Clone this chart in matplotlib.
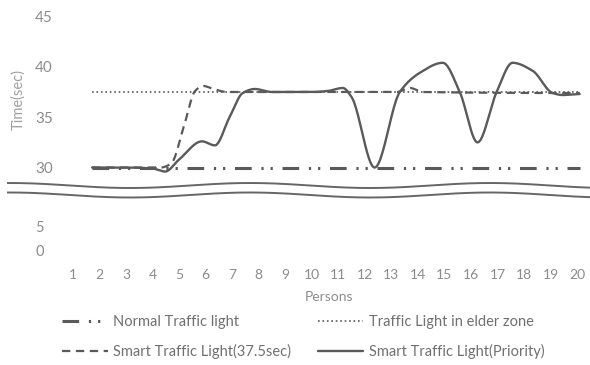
import numpy as np
import matplotlib.pyplot as plt
from matplotlib.lines import Line2D

plt.rcParams['font.family'] = ['Lato', 'DejaVu Sans']
plt.rcParams['lines.scale_dashes'] = False

# data
persons = list(range(1, 21))
span_x = [1.72, 20.1]
normal = [30, 30]
elder = [37.5, 37.5]

smart_x = [1.72, 4.3, 4.7, 5.2, 5.6, 5.9, 6.3, 6.8, 13.2, 13.7, 14.2, 20.1]
smart_y = [30, 30, 30.4, 34.3, 37.6, 38.1, 37.8, 37.5, 37.5, 37.9, 37.5, 37.4]

prio_x = [1.72, 3.0, 4.0, 4.47, 5.0, 5.86, 6.35, 6.9, 7.4, 7.85, 8.5, 10.0, 10.6,
          11.17, 11.5, 12.37, 13.32, 14.07, 14.94, 15.58, 16.25, 16.97, 17.57,
          18.33, 19.08, 19.46, 20.1]
prio_y = [30.0, 30.0, 29.9, 29.6, 30.8, 32.6, 32.2, 35.0, 37.4, 37.8, 37.5, 37.5, 37.6,
          37.9, 37.0, 30.0, 37.5, 39.4, 40.4, 37.5, 32.5, 37.5, 40.4,
          39.6, 37.4, 37.2, 37.3]

top_ticks = [30, 35, 40, 45]
low_ticks = [0, 5]


def smooth(x, y, n=25):
    # monotone cubic through the points (no overshoot on flat runs)
    x = np.asarray(x, float)
    y = np.asarray(y, float)
    h = np.diff(x)
    d = np.diff(y) / h
    m = np.zeros_like(y)
    for i in range(1, len(x) - 1):
        if d[i - 1] * d[i] > 0:
            w1 = 2 * h[i] + h[i - 1]
            w2 = h[i] + 2 * h[i - 1]
            m[i] = (w1 + w2) / (w1 / d[i - 1] + w2 / d[i])
    xs, ys = [], []
    for i in range(len(x) - 1):
        t = np.linspace(0, 1, n, endpoint=False)
        h00 = 2 * t**3 - 3 * t**2 + 1
        h10 = t**3 - 2 * t**2 + t
        h01 = -2 * t**3 + 3 * t**2
        h11 = t**3 - t**2
        xs.append(x[i] + t * h[i])
        ys.append(h00 * y[i] + h10 * h[i] * m[i] + h01 * y[i + 1] + h11 * h[i] * m[i + 1])
    xs.append([x[-1]])
    ys.append([y[-1]])
    return np.concatenate(xs), np.concatenate(ys)


W, H = 590, 365
fig = plt.figure(figsize=(W / 100, H / 100), dpi=100)

lc = '#5a5a5a'
tc = '#8c8c8c'

ax = fig.add_axes([55 / W, 1 - 176 / H, 535 / W, 168 / H])
low = fig.add_axes([55 / W, 1 - 262 / H, 535 / W, 57 / H])

for a in (ax, low):
    a.set_xlim(0.32, 20.49)
    for s in a.spines.values():
        s.set_visible(False)
    a.patch.set_alpha(0)

ax.set_ylim(29.16, 45.84)
low.set_ylim(-2.2, 9.2)

l_norm, = ax.plot(span_x, normal, color=lc, lw=2.2)
l_norm.set_dashes([12, 7, 1.6, 5, 1.6, 7])
l_eld, = ax.plot(span_x, elder, color=lc, lw=1.2)
l_eld.set_dashes([1.2, 2.0])
sx, sy = smooth(smart_x, smart_y)
l_sm, = ax.plot(sx, sy, color=lc, lw=1.6)
l_sm.set_dashes([6, 4])
px, py = smooth(prio_x, prio_y)
l_pr, = ax.plot(px, py, color=lc, lw=1.7, solid_capstyle='round')

ax.set_xticks([])
ax.set_yticks(top_ticks)
ax.tick_params(axis='y', length=0, pad=14.4, labelsize=11, labelcolor=tc)
for lab in ax.get_yticklabels():
    lab.set_horizontalalignment('left')

low.set_yticks(low_ticks)
low.tick_params(axis='y', length=0, pad=14.4, labelsize=10.5, labelcolor=tc)
for lab in low.get_yticklabels():
    lab.set_horizontalalignment('left')
low.set_xticks(persons)
low.tick_params(axis='x', length=0, pad=5, labelsize=10, labelcolor=tc)

fig.text(18 / W, 1 - 100 / H, 'Time(sec)', rotation=90, ha='center', va='center',
         fontsize=10.5, color='#a0a0a0')
fig.text(329 / W, 1 - 297 / H, 'Persons', ha='center', va='center',
         fontsize=10, color=tc)

# axis break waves
wx = np.linspace(8, 590, 300)
for off in (185.5, 195):
    wy = off + 2.5 * np.sin(2 * np.pi * (wx - 70) / 240)
    fig.add_artist(Line2D(wx / W, 1 - wy / H, color='#666666', lw=1.4,
                          transform=fig.transFigure))

fig.legend([l_norm, l_sm, l_eld, l_pr],
           ['Normal Traffic light', 'Smart Traffic Light(37.5sec)',
            'Traffic Light in elder zone', 'Smart Traffic Light(Priority)'],
           ncol=2, loc='upper left', bbox_to_anchor=(55 / W, 1 - 308 / H),
           frameon=False, fontsize=10.5, labelcolor='#707070',
           handlelength=3.1, handletextpad=0.4, columnspacing=1.8,
           labelspacing=1.0, borderpad=0)

fig.savefig('out.png', dpi=100, facecolor='white')
